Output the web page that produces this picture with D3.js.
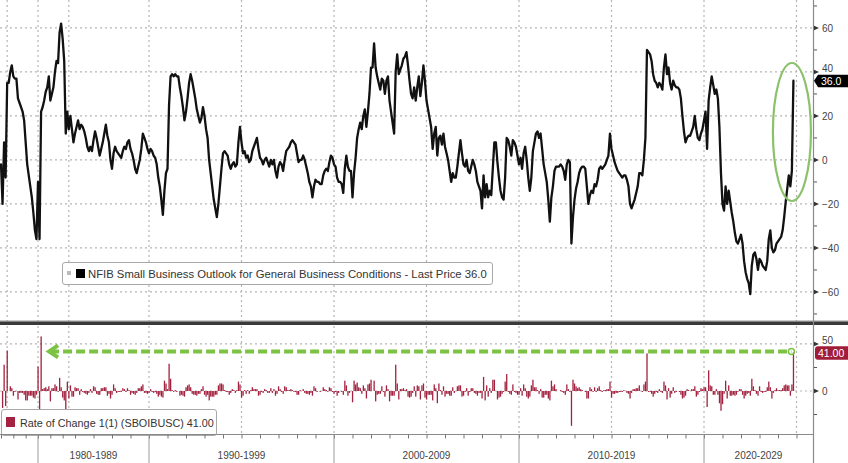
<!DOCTYPE html>
<html><head><meta charset="utf-8">
<script src="https://cdn.jsdelivr.net/npm/d3@7"></script>
<style>
html,body{margin:0;padding:0;background:#fff;}
svg{display:block;font-family:"Liberation Sans",Arial,sans-serif;}
</style></head><body>
<svg id="c" width="848" height="463"></svg>
<script>
// ---- DATA ----
// Quarterly observations 1974Q1 .. 1985Q4
const quarterlyValues = [-2,-20,8,-8,35,35,40,43,38,37,37,28,26,24,22,18,8,-2,-7,-12,-17,-24,-32,-36,
  -10,-36,22,24,27,31,33,38,27,30,33,40,45,44,58,62,55,45,12,22,14,20,14,8];
// Monthly observations 1986-01 .. 2024-11
const monthlyValues = [
  12,15,18,14,16,15,13,10,6,4,
  6,4,9,13,10,6,2,5,8,12,
  16,11,8,0,-4,3,6,4,3,2,
  1,4,6,5,8,9,5,3,0,-4,
  -6,-3,0,5,12,10,8,5,3,5,
  4,2,1,-2,-8,-12,-18,-25,-14,-6,
  -4,25,38,39,38,39,38,38,33,29,
  24,18,22,28,35,39,36,32,28,23,
  20,17,19,24,20,14,10,0,-6,-12,
  -18,-22,-26,-20,-12,-4,3,4,3,2,
  -2,-4,-2,-1,-3,-2,8,15,8,3,
  4,1,2,-1,0,4,6,8,10,5,
  1,0,-2,0,1,-1,-3,0,-2,0,
  -5,-8,-3,-1,-2,-5,0,4,5,6,
  8,9,8,7,3,-1,0,0,2,0,
  -3,-6,-10,-12,-17,-12,-9,-10,-10,-11,
  -11,-7,-5,-4,-5,-1,2,1,-2,-3,
  -8,-10,-10,-11,-15,-4,2,-3,-5,-5,
  -17,-6,1,10,14,17,14,20,23,15,
  22,30,42,42,53,42,38,35,32,37,
  36,30,36,38,27,22,17,12,40,48,
  39,41,43,46,47,49,43,36,30,28,
  33,27,33,38,29,35,43,36,27,23,
  19,15,5,12,15,2,10,11,7,12,
  6,3,0,-5,-10,-6,-8,-8,-3,3,
  9,3,-2,-3,0,-5,-6,-3,0,-2,
  -5,-10,-12,-14,-22,-7,-17,-11,-17,-14,
  -16,-4,8,8,-1,-8,-14,-17,-18,-8,
  10,9,6,2,9,8,6,2,-2,1,
  -4,3,6,0,-8,-14,-8,4,8,12,
  13,10,12,5,-2,-6,-10,-18,-28,-17,
  -12,-5,-3,-3,-3,-2,-3,-5,-9,-2,
  0,-1,-38,-26,-18,-13,-10,-6,-4,-3,
  -3,-4,-12,-20,-16,-14,-15,-11,-12,-9,
  -4,-3,-4,-3,-2,0,2,12,5,2,
  -1,-3,-5,-6,-7,-8,-7,-7,-9,-12,
  -20,-22,-20,-18,-15,-12,-6,-6,-7,0,
  10,50,49,48,45,39,36,35,33,35,
  34,32,42,48,39,42,35,32,36,34,
  33,33,32,28,20,13,8,10,11,11,
  13,15,20,14,10,9,12,14,18,22,
  5,27,33,38,34,30,32,28,15,-6,
  -20,-23,-12,-20,-14,-19,-24,-28,-33,-37,
  -38,-36,-34,-38,-46,-51,-54,-56,-61,-48,
  -43,-42,-45,-50,-45,-46,-48,-49,-50,-46,
  -36,-32,-40,-42,-41,-38,-37,-36,-35,-32,
  -26,-19,-13,-7,-12,-5,36];
const topTicks = [60,40,20,0,-20,-40,-60];
const topMinorTicks = [70,50,30,10,-10,-30,-50,-70];
const bottomTicks = [50,0];
const bottomMinorTicks = [25,-25];
const decadeLabels = ["1980-1989","1990-1999","2000-2009","2010-2019","2020-2029"];
const decadeStarts = ["1980Q1","1990-01","2000-01","2010-01","2020-01"];
const gridPeriods = ["1975Q1","1980Q1","1985Q1","1990-01","1995-01","2000-01","2005-01","2010-01","2015-01","2020-01","2025-01"];
const legendTop = "NFIB Small Business Outlook for General Business Conditions - Last Price 36.0";
const legendBottom = "Rate of Change 1(1) (SBOIBUSC) 41.00";
const lastPriceLabel = "36.0";
const lastRocLabel = "41.00";

// ---- categories (periods) ----
const periods = [];
for (let y = 1974; y <= 1985; y++) for (let q = 1; q <= 4; q++) periods.push(y + "Q" + q);
for (let y = 1986; y <= 2024; y++) for (let m = 1; m <= 12; m++) {
  if (y === 2024 && m > 11) break;
  periods.push(y + "-" + String(m).padStart(2, "0"));
}
function periodIndex(lbl) {
  if (lbl.includes("Q")) { const [y, q] = lbl.split("Q").map(Number); return (y - 1974) * 4 + (q - 1); }
  const [y, m] = lbl.split("-").map(Number); return 48 + (y - 1986) * 12 + (m - 1);
}
const values = quarterlyValues.concat(monthlyValues);
const data = periods.map((p, k) => ({ k, p, v: values[k] }));
const roc = data.slice(1).map((d, j) => ({ k: d.k, v: d.v - data[j].v }));

// ---- layout ----
const svg = d3.select("#c");
const axisX = 813;
const x = d3.scaleLinear().domain([-0.65, 526.7]).range([0, axisX]);
const yT = d3.scaleLinear().domain([-73.2, 72.7]).range([321, 0]);
const yB = d3.scaleLinear().domain([-45.7, 69.1]).range([434, 326]);

const defs = svg.append("defs");
defs.append("clipPath").attr("id", "cpT").append("rect").attr("x", 0).attr("y", 0).attr("width", axisX).attr("height", 321);
defs.append("clipPath").attr("id", "cpB").append("rect").attr("x", 0).attr("y", 326).attr("width", axisX).attr("height", 108);

const gridColor = "#b5b5b5";
const dash = "2,3";
const gT = svg.append("g");
gT.selectAll("line.h").data(topTicks).join("line")
  .attr("x1", 0).attr("x2", axisX).attr("y1", d => yT(d)).attr("y2", d => yT(d))
  .attr("stroke", gridColor).attr("stroke-width", 1.2).attr("stroke-dasharray", dash);
gT.selectAll("line.v").data(gridPeriods).join("line")
  .attr("x1", d => x(periodIndex(d))).attr("x2", d => x(periodIndex(d))).attr("y1", 0).attr("y2", 321)
  .attr("stroke", gridColor).attr("stroke-width", 1.2).attr("stroke-dasharray", dash);
const gB = svg.append("g");
gB.selectAll("line.h").data(bottomTicks).join("line")
  .attr("x1", 0).attr("x2", axisX).attr("y1", d => yB(d)).attr("y2", d => yB(d))
  .attr("stroke", gridColor).attr("stroke-width", 1.2).attr("stroke-dasharray", dash);
gB.selectAll("line.v").data(gridPeriods).join("line")
  .attr("x1", d => x(periodIndex(d))).attr("x2", d => x(periodIndex(d))).attr("y1", 326).attr("y2", 434)
  .attr("stroke", gridColor).attr("stroke-width", 1.2).attr("stroke-dasharray", dash);

// main line
const line = d3.line().x(d => x(d.k)).y(d => yT(d.v)).curve(d3.curveLinear);
svg.append("path").datum(data).attr("clip-path", "url(#cpT)")
  .attr("d", line).attr("fill", "none").attr("stroke", "#111").attr("stroke-width", 2.3)
  .attr("stroke-linejoin", "round").attr("stroke-linecap", "round");

// bars
svg.append("g").attr("clip-path", "url(#cpB)").selectAll("rect").data(roc).join("rect")
  .attr("x", d => x(d.k) - 0.6).attr("width", 1.3)
  .attr("y", d => Math.min(yB(0), yB(d.v))).attr("height", d => Math.abs(yB(d.v) - yB(0)))
  .attr("fill", "#a3223f");

// legend top
const lt = svg.append("g");
lt.append("rect").attr("x", 62.5).attr("y", 262.5).attr("width", 430).attr("height", 22).attr("rx", 2.5)
  .attr("fill", "#fff").attr("stroke", "#a8a8a8").attr("stroke-width", 1);
lt.append("rect").attr("x", 67).attr("y", 271).attr("width", 4).attr("height", 4).attr("fill", "#bbb");
lt.append("rect").attr("x", 76).attr("y", 269).attr("width", 9).attr("height", 9).attr("fill", "#000");
lt.append("text").attr("x", 88).attr("y", 277.5).attr("font-size", 11.3).attr("fill", "#333").text(legendTop);

// legend bottom
const lb = svg.append("g");
lb.append("rect").attr("x", 1.5).attr("y", 409.5).attr("width", 215).attr("height", 26).attr("rx", 2.5)
  .attr("fill", "#fff").attr("stroke", "#a8a8a8").attr("stroke-width", 1);
lb.append("rect").attr("x", 6).attr("y", 417).attr("width", 9).attr("height", 10).attr("fill", "#a3223f");
lb.append("text").attr("x", 20).attr("y", 426.5).attr("font-size", 10.8).attr("fill", "#333").text(legendBottom);

// separator between panels
svg.append("rect").attr("x", 0).attr("y", 320.5).attr("width", 848).attr("height", 1).attr("fill", "#999");
svg.append("rect").attr("x", 0).attr("y", 321.5).attr("width", 848).attr("height", 3.5).attr("fill", "#3a3a3a");

// right axes
svg.append("line").attr("x1", axisX + 0.5).attr("x2", axisX + 0.5).attr("y1", 0).attr("y2", 463)
  .attr("stroke", "#8a8a8a").attr("stroke-width", 1.2);

const lastV = data[data.length - 1].v;
const pyT = yT(lastV);
const lastR = roc[roc.length - 1].v;
const pyB = yB(lastR);

function styleAxis(g, majors, minors, scale, boxY) {
  g.select(".domain").remove();
  g.selectAll(".tick line").remove();
  g.selectAll(".tick text").attr("x", 8).attr("fill", "#444").attr("font-size", 10)
    .attr("font-family", "Liberation Sans, Arial, sans-serif")
    .attr("dy", d => {
      // a label partly covered by the last-value box peeks out above it
      const yy = scale(d);
      return (boxY - yy > 0 && boxY - yy < 14) ? "-0.05em" : "0.32em";
    });
  g.selectAll("path.mk").data(majors).join("path").attr("class", "mk")
    .attr("d", d => `M0,${scale(d) - 2.2}L5,${scale(d)}L0,${scale(d) + 2.2}Z`).attr("fill", "#333");
  g.selectAll("line.mn").data(minors).join("line").attr("class", "mn")
    .attr("x1", 0).attr("x2", 3).attr("y1", d => scale(d)).attr("y2", d => scale(d))
    .attr("stroke", "#555").attr("stroke-width", 1);
}
const axT = svg.append("g").attr("transform", `translate(${axisX + 1},0)`)
  .call(d3.axisRight(yT).tickValues(topTicks).tickSize(0).tickPadding(8).tickFormat(d3.format("d")));
styleAxis(axT, topTicks, topMinorTicks.filter(v => yT(v) > 1 && yT(v) < 320), yT, pyT);
const axB = svg.append("g").attr("transform", `translate(${axisX + 1},0)`)
  .call(d3.axisRight(yB).tickValues(bottomTicks).tickSize(0).tickPadding(8).tickFormat(d3.format("d")));
styleAxis(axB, bottomTicks, bottomMinorTicks, yB, pyB);

// last value labels
svg.append("path").attr("d", `M${axisX + 1},${pyT}L${axisX + 5},${pyT - 6}H848V${pyT + 6.5}H${axisX + 5}Z`).attr("fill", "#000");
svg.append("text").attr("x", axisX + 8).attr("y", pyT + 4).attr("font-size", 10.5).attr("fill", "#fff").text(lastPriceLabel);

svg.append("rect").attr("x", axisX + 2).attr("y", pyB - 6.2).attr("width", 40).attr("height", 13.5).attr("rx", 3).attr("fill", "#a01d3a");
svg.append("text").attr("x", axisX + 5).attr("y", pyB + 4.2).attr("font-size", 10.5).attr("fill", "#fff").text(lastRocLabel);

// annotations: green ellipse and dashed arrow
const lastK = data[data.length - 1].k;
svg.append("ellipse").attr("cx", x(lastK) - 1.5).attr("cy", 132).attr("rx", 19).attr("ry", 69)
  .attr("fill", "none").attr("stroke", "#8cc06a").attr("stroke-width", 2.2);
const peakR = roc.slice(0, 60).reduce((a, b) => (b.v > a.v ? b : a));
const ay = pyB - 1;
const ax0 = x(peakR.k) + 6, ax1 = x(lastK) - 2;
svg.append("line").attr("x1", ax0 + 3).attr("x2", ax1).attr("y1", ay).attr("y2", ay)
  .attr("stroke", "#7cc244").attr("stroke-width", 4).attr("stroke-dasharray", "9,4");
svg.append("path").attr("d", `M${ax0 + 11},${ay - 6}L${ax0 + 2},${ay}L${ax0 + 11},${ay + 6}`)
  .attr("fill", "none").attr("stroke", "#7cc244").attr("stroke-width", 4).attr("stroke-linejoin", "miter");
svg.append("circle").attr("cx", ax1).attr("cy", ay).attr("r", 3).attr("fill", "none").attr("stroke", "#7cc244").attr("stroke-width", 1.5);

// bottom time axis
const yearTicks = [];
for (let y = 1974; y <= 1985; y += 2) yearTicks.push(periodIndex(y + "Q1"));
for (let y = 1986; y <= 2025; y++) yearTicks.push(periodIndex(y + "-01"));
const axX = svg.append("g").attr("transform", "translate(0,434.5)")
  .call(d3.axisBottom(x).tickValues(yearTicks.filter(k => x(k) < axisX)).tickSize(4).tickFormat(""));
axX.select(".domain").attr("stroke", "#8a8a8a").attr("d", `M0,0H${axisX + 1}`);
axX.selectAll(".tick line").attr("stroke", "#777");
const dxs = decadeStarts.map(periodIndex);
svg.selectAll("line.dec").data(dxs).join("line").attr("class", "dec")
  .attr("x1", d => x(d)).attr("x2", d => x(d)).attr("y1", 434.5).attr("y2", 463)
  .attr("stroke", "#9a9a9a").attr("stroke-width", 1);
svg.selectAll("text.dec").data(decadeLabels).join("text").attr("class", "dec")
  .attr("x", (d, j) => { const a = x(dxs[j]); const b = j < dxs.length - 1 ? x(dxs[j + 1]) : axisX; return (a + b) / 2; })
  .attr("y", 459).attr("text-anchor", "middle").attr("font-size", 10).attr("fill", "#444").text(d => d);
</script>
</body></html>
